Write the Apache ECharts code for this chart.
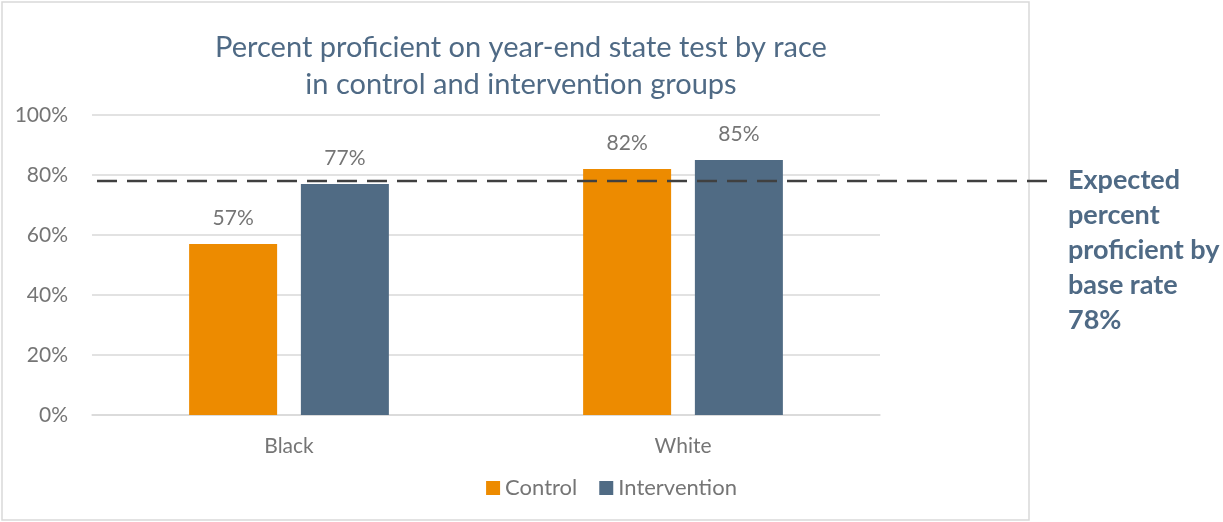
<!DOCTYPE html>
<html>
<head>
<meta charset="utf-8">
<script src="https://cdn.jsdelivr.net/npm/echarts@6/dist/echarts.min.js"></script>
<style>
  html, body { margin: 0; padding: 0; background: #fff; }
  #chart { width: 1223px; height: 522px; }
</style>
</head>
<body>
<div id="chart"></div>
<script>
var categories = ['Black', 'White'];
var controlValues = [57, 82];
var interventionValues = [77, 85];
var baseRate = 78;
var yTicks = [0, 20, 40, 60, 80, 100];
var noteLines = ['Expected', 'percent', 'proficient by', 'base rate', baseRate + '%'];

var font = 'Lato, "Open Sans", sans-serif';
var myChart = echarts.init(document.getElementById('chart'));

var option = {
    animation: false,
    title: {
        text: 'Percent proficient on year-end state test by race\nin control and intervention groups',
        left: 516,
        top: 24,
        textAlign: 'center',
        textStyle: {
            color: '#4f6a85',
            fontFamily: font,
            fontWeight: 'normal',
            fontSize: 29,
            lineHeight: 37
        }
    },
    legend: {
        top: 472,
        left: 'center',
        itemWidth: 14,
        itemHeight: 14,
        itemGap: 22,
        icon: 'rect',
        textStyle: { color: '#757575', fontFamily: font, fontSize: 22 }
    },
    grid: { left: 92, right: 343, top: 115, bottom: 107, containLabel: false },
    xAxis: {
        type: 'category',
        data: categories,
        axisLine: { lineStyle: { color: '#d9d9d9', width: 1.5 } },
        axisTick: { show: false },
        axisLabel: { color: '#757575', fontFamily: font, fontSize: 21, margin: 21 }
    },
    yAxis: {
        type: 'value',
        min: yTicks[0],
        max: yTicks[yTicks.length - 1],
        interval: 20,
        axisLabel: { color: '#757575', fontFamily: font, fontSize: 21, margin: 24, formatter: '{value}%' },
        splitLine: { lineStyle: { color: '#d9d9d9', width: 1.5 } },
        axisLine: { show: false },
        axisTick: { show: false }
    },
    series: [
        {
            name: 'Control',
            type: 'bar',
            data: controlValues,
            barWidth: 88,
            barGap: '27%',
            itemStyle: { color: '#ed8b00' },
            label: { show: true, position: 'top', distance: 15, color: '#757575', fontFamily: font, fontSize: 21, formatter: '{c}%' }
        },
        {
            name: 'Intervention',
            type: 'bar',
            data: interventionValues,
            barWidth: 88,
            itemStyle: { color: '#506b84' },
            label: { show: true, position: 'top', distance: 15, color: '#757575', fontFamily: font, fontSize: 21, formatter: '{c}%' }
        }
    ]
};

myChart.setOption(option);

var lineY = myChart.convertToPixel({ yAxisIndex: 0 }, baseRate);
myChart.setOption({
    graphic: [
        {
            type: 'rect',
            shape: { x: 2, y: 2, width: 1027, height: 518 },
            style: { fill: 'none', stroke: '#d9d9d9', lineWidth: 1.5 },
            z: -1
        },
        {
            type: 'line',
            shape: { x1: 97, y1: lineY, x2: 1055, y2: lineY },
            style: { stroke: '#404040', lineWidth: 2.5, lineDash: [20, 10] },
            z: 10
        },
        {
            type: 'text',
            left: 1068,
            top: lineY - 18,
            style: {
                text: noteLines.join('\n'),
                fill: '#4f6a85',
                font: 'bold 27px ' + font,
                lineHeight: 35
            }
        }
    ]
});
</script>
</body>
</html>
